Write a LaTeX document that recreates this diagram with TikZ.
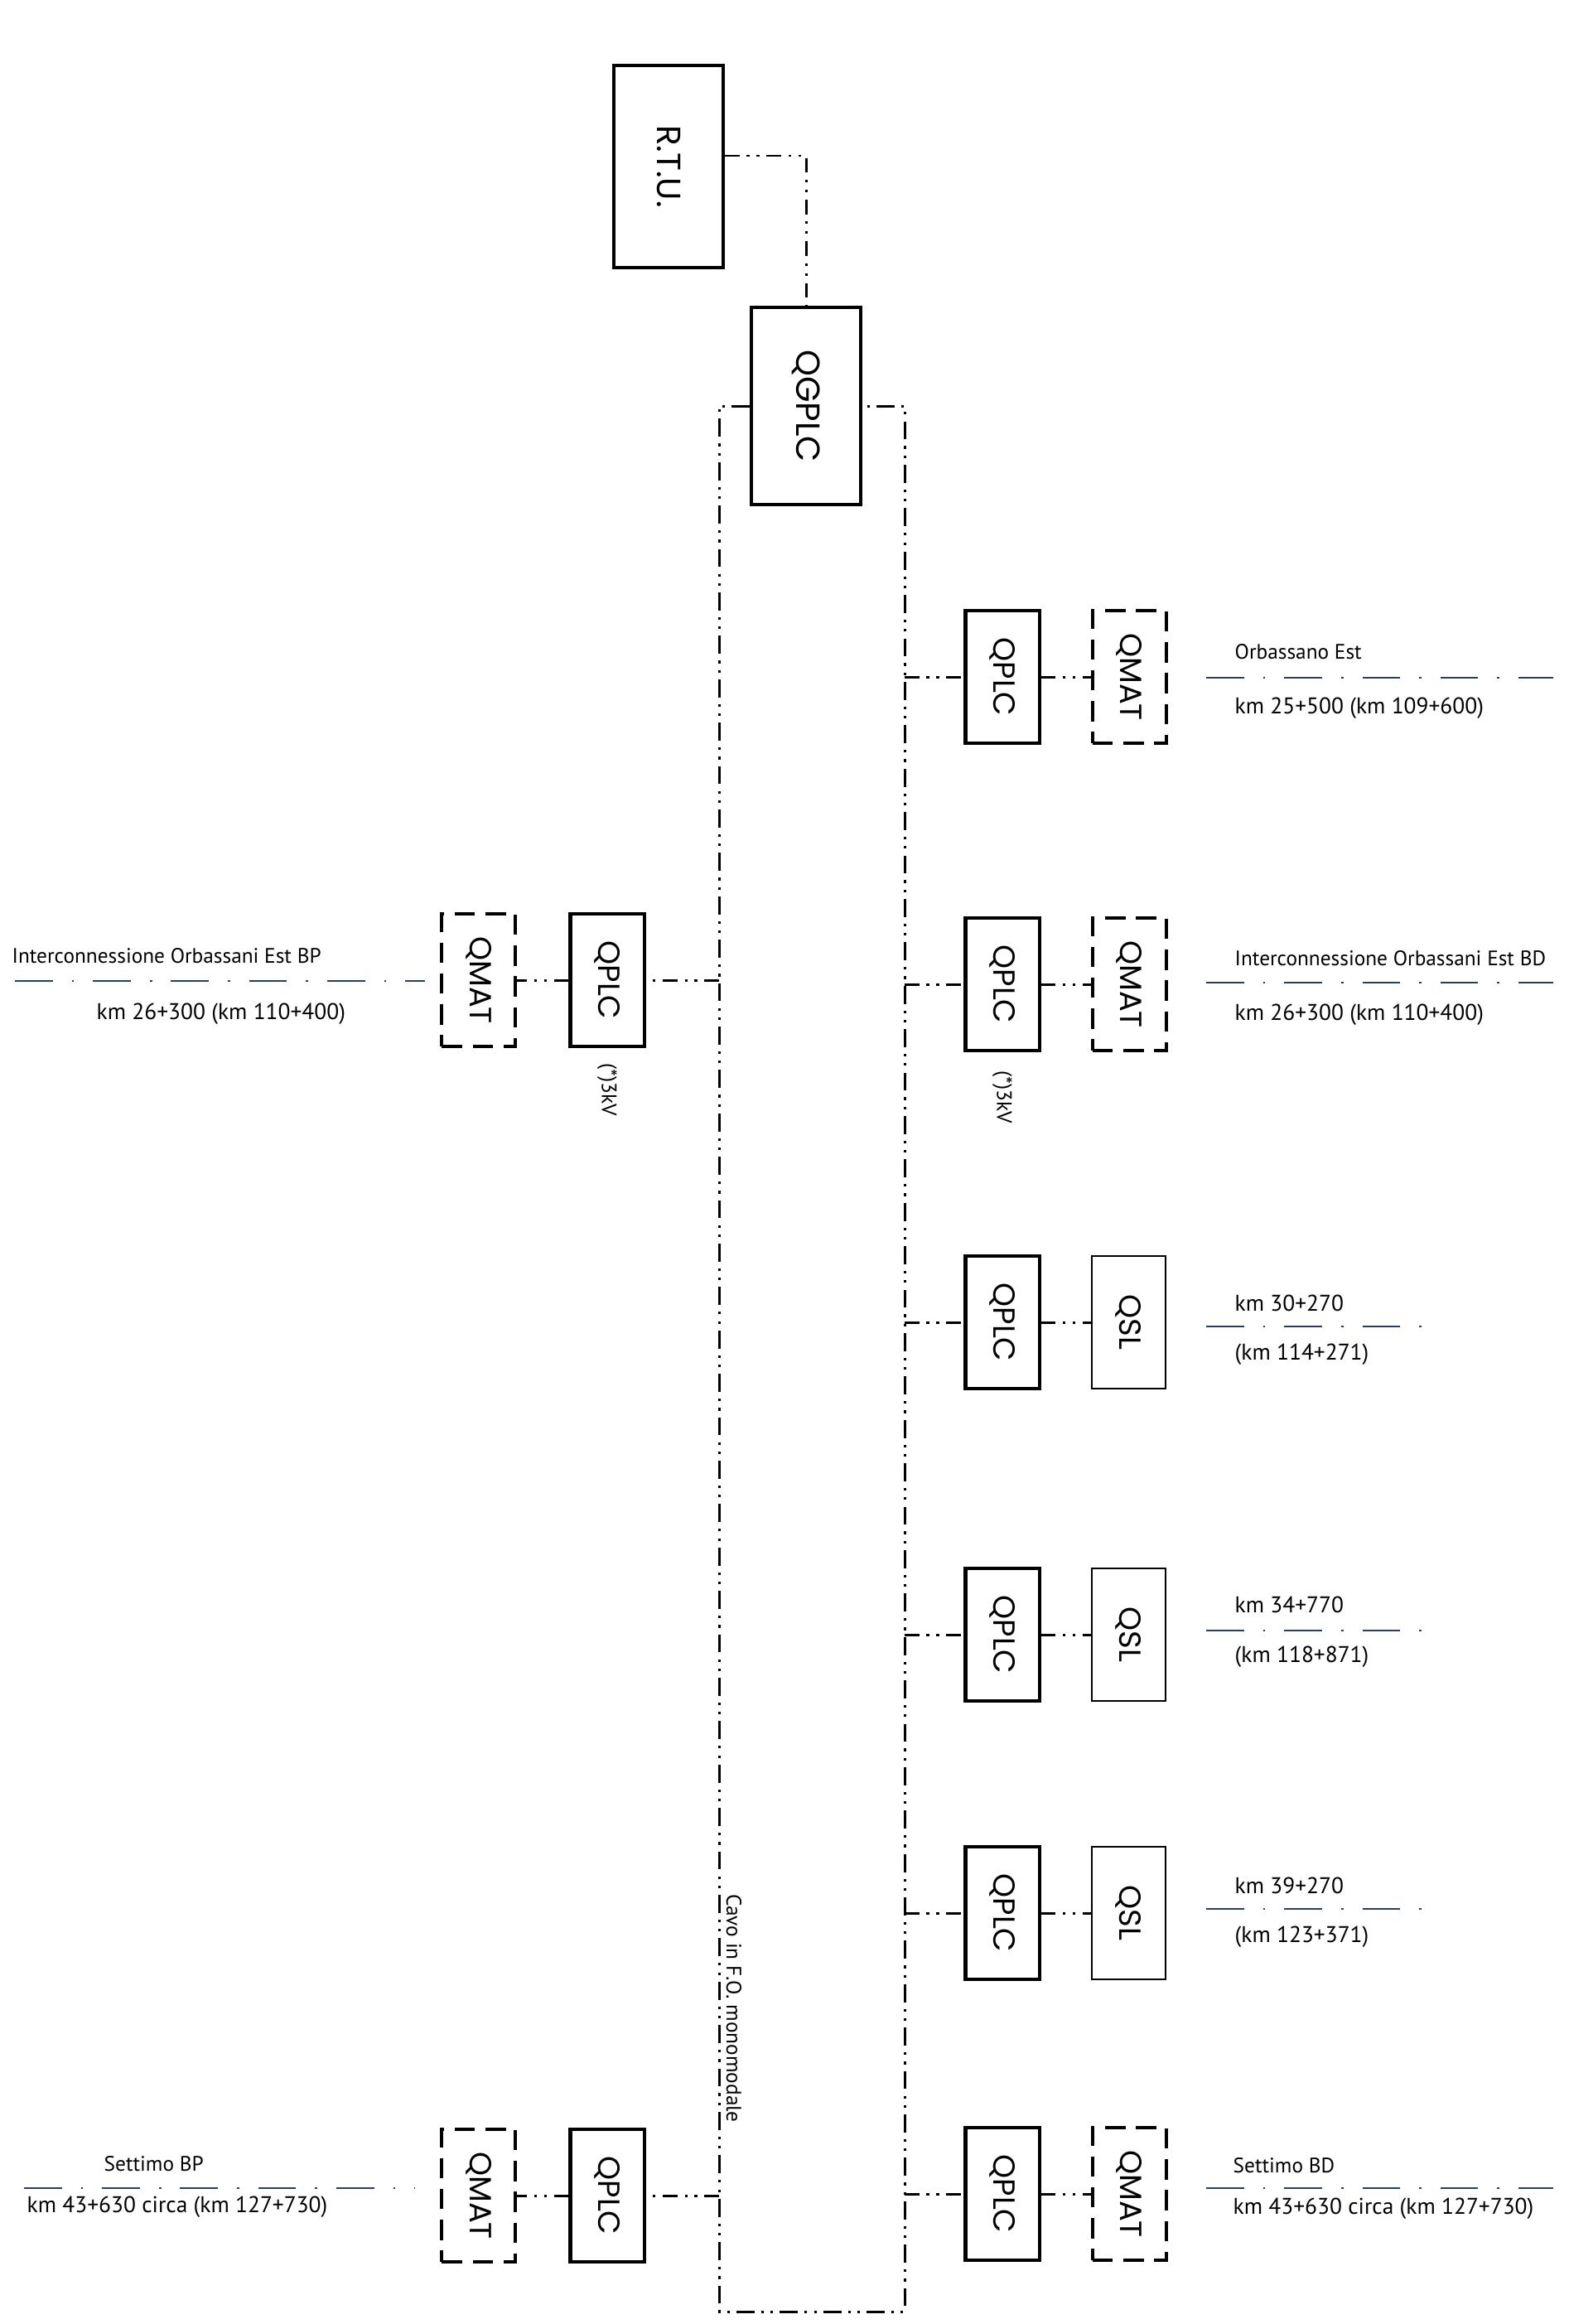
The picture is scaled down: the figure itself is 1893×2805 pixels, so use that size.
\documentclass[tikz,border=0pt]{standalone}
\usepackage{graphicx}
\usepackage{fontspec}
\setmainfont{PT Sans}
\newfontfamily\boxfont{Poppins}
\usetikzlibrary{positioning}
\definecolor{trackBlue}{RGB}{45, 62, 90}
\newcommand{\vtxt}[1]{\rotatebox{-90}{#1}}

\begin{document}
\begin{tikzpicture}[x=0.01cm, y=-0.01cm,
    box/.style={draw, line width=1.15pt, minimum width=0.89cm, minimum height=1.6cm, inner sep=0pt, font=\boxfont\fontsize{10.5}{12}\selectfont},
    matbox/.style={box, dash pattern=on 7pt off 3.6pt},
    slbox/.style={box, line width=0.6pt},
    bigbox/.style={box, minimum width=1.32cm, font=\boxfont\fontsize{11.5}{13}\selectfont},
    bus/.style={line width=0.85pt, dash pattern=on 6.2pt off 2.3pt on 0.9pt off 2.3pt on 0.9pt off 2.3pt},
    link/.style={line width=0.85pt, dash pattern=on 5pt off 2.5pt on 0.9pt off 2.5pt on 0.9pt off 2.5pt},
    track/.style={line width=0.45pt, trackBlue, dash pattern=on 13pt off 6.5pt on 0.8pt off 6.5pt},
    place/.style={anchor=west, inner sep=0pt, font=\fontsize{7.2}{8}\selectfont},
    kmtxt/.style={place, font=\fontsize{7.8}{9}\selectfont},
    note/.style={inner sep=0pt, font=\fontsize{7.2}{8}\selectfont}
  ]
  \useasboundingbox (0,0) rectangle (1893,2805);

  % central units
  \node[bigbox, minimum height=2.43cm] (rtu) at (807,201) {\vtxt{R.T.U.}};
  \node[bigbox, minimum height=2.37cm] (qgplc) at (973,490) {\vtxt{QGPLC}};
  \draw[link] ([yshift=0.13cm]rtu.east) -| (qgplc.north);

  % fibre ring
  \coordinate (busTL) at (868,490);
  \coordinate (busBL) at (868,2790);
  \coordinate (busBR) at (1092,2790);
  \coordinate (busTR) at (1092,490);
  \draw[bus] (qgplc.west) -- (busTL) -- (busBL) -- (busBR) -- (busTR) -- (qgplc.east);
  \node[note] (cavo) at (886,2424) {\vtxt{Cavo in F.O. monomodale}};

  % right branch
  \node[box] (r1plc) at (1210,817) {\vtxt{QPLC}};
  \node[matbox, right=0.6cm of r1plc] (r1mat) {\vtxt{QMAT}};
  \node[box] (r2plc) at (1210,1188) {\vtxt{QPLC}};
  \node[matbox, right=0.6cm of r2plc] (r2mat) {\vtxt{QMAT}};
  \node[note, below=0.22cm of r2plc] (r2kv) {\vtxt{(*)3kV}};
  \node[box] (r3plc) at (1210,1596) {\vtxt{QPLC}};
  \node[slbox, right=0.6cm of r3plc] (r3sl) {\vtxt{QSL}};
  \node[box] (r4plc) at (1210,1973) {\vtxt{QPLC}};
  \node[slbox, right=0.6cm of r4plc] (r4sl) {\vtxt{QSL}};
  \node[box] (r5plc) at (1210,2309) {\vtxt{QPLC}};
  \node[slbox, right=0.6cm of r5plc] (r5sl) {\vtxt{QSL}};
  \node[box] (r6plc) at (1210,2648) {\vtxt{QPLC}};
  \node[matbox, right=0.6cm of r6plc] (r6mat) {\vtxt{QMAT}};

  \coordinate (rb1) at (1092,817);
  \coordinate (rb2) at (1092,1188);
  \coordinate (rb3) at (1092,1596);
  \coordinate (rb4) at (1092,1973);
  \coordinate (rb5) at (1092,2309);
  \coordinate (rb6) at (1092,2648);
  \draw[link] (rb1) -- (r1plc);
  \draw[link] (r1plc) -- (r1mat);
  \draw[link] (rb2) -- (r2plc);
  \draw[link] (r2plc) -- (r2mat);
  \draw[link] (rb3) -- (r3plc);
  \draw[link] (r3plc) -- (r3sl);
  \draw[link] (rb4) -- (r4plc);
  \draw[link] (r4plc) -- (r4sl);
  \draw[link] (rb5) -- (r5plc);
  \draw[link] (r5plc) -- (r5sl);
  \draw[link] (rb6) -- (r6plc);
  \draw[link] (r6plc) -- (r6mat);

  % left branch
  \node[box] (l1plc) at (733,1183) {\vtxt{QPLC}};
  \node[matbox, left=0.62cm of l1plc] (l1mat) {\vtxt{QMAT}};
  \node[note, below=0.18cm of l1plc] (l1kv) {\vtxt{(*)3kV}};
  \node[box] (l2plc) at (733,2650) {\vtxt{QPLC}};
  \node[matbox, left=0.62cm of l2plc] (l2mat) {\vtxt{QMAT}};

  \coordinate (lb1) at (868,1183);
  \coordinate (lb2) at (868,2650);
  \draw[link] (lb1) -- (l1plc);
  \draw[link] (l1plc) -- (l1mat);
  \draw[link] (lb2) -- (l2plc);
  \draw[link] (l2plc) -- (l2mat);

  % stations
  \node[place] (r1name) at (1490,787) {Orbassano Est};
  \draw[track] (1456,818) -- (1875,818);
  \node[kmtxt] (r1km) at (1490,855) {km 25+500 (km 109+600)};
  \node[place] (r2name) at (1490,1157) {Interconnessione Orbassani Est BD};
  \draw[track] (1456,1186) -- (1875,1186);
  \node[kmtxt] (r2km) at (1490,1225) {km 26+300 (km 110+400)};
  \node[kmtxt] (r3name) at (1490,1573) {km 30+270};
  \draw[track] (1456,1601) -- (1723,1601);
  \node[kmtxt] (r3km) at (1490,1635) {(km 114+271)};
  \node[kmtxt] (r4name) at (1490,1937) {km 34+770};
  \draw[track] (1456,1968) -- (1726,1968);
  \node[kmtxt] (r4km) at (1490,2000) {(km 118+871)};
  \node[kmtxt] (r5name) at (1490,2276) {km 39+270};
  \draw[track] (1456,2304) -- (1726,2304);
  \node[kmtxt] (r5km) at (1490,2338) {(km 123+371)};
  \node[place] (r6name) at (1488,2614) {Settimo BD};
  \draw[track] (1456,2641) -- (1875,2641);
  \node[kmtxt] (r6km) at (1488,2666) {km 43+630 circa (km 127+730)};

  \node[place] (l1name) at (14,1154) {Interconnessione Orbassani Est BP};
  \draw[track] (18,1184) -- (513,1184);
  \node[kmtxt] (l1km) at (116,1224) {km 26+300 (km 110+400)};
  \node[place] (l2name) at (125,2612) {Settimo BP};
  \draw[track] (29,2641) -- (501,2641);
  \node[kmtxt] (l2km) at (32,2664) {km 43+630 circa (km 127+730)};
\end{tikzpicture}
\end{document}
